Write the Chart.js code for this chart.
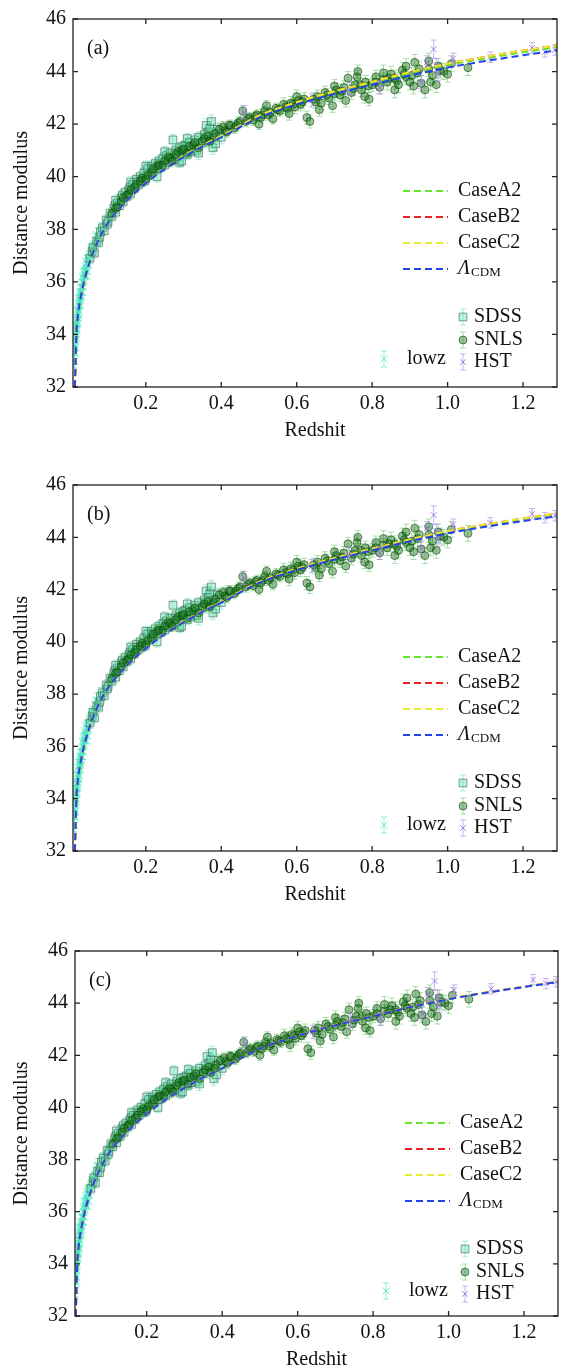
<!DOCTYPE html>
<html>
<head>
<meta charset="utf-8">
<script src="https://cdn.jsdelivr.net/npm/chart.js@4.4.0/dist/chart.umd.min.js"></script>
<style>
  body { margin: 0; background: #fff; }
  .panel { position: absolute; left: 0; }
</style>
</head>
<body>
<div class="panel" style="top:0"><canvas id="chartA" width="566" height="466"></canvas></div>
<div class="panel" style="top:466px"><canvas id="chartB" width="566" height="466"></canvas></div>
<div class="panel" style="top:932px"><canvas id="chartC" width="566" height="440"></canvas></div>
<script>
const curveZ = [0.012, 0.016, 0.02, 0.03, 0.05, 0.07, 0.1, 0.15, 0.2, 0.25, 0.3, 0.35, 0.4, 0.5, 0.6, 0.7, 0.8, 0.9, 1.0, 1.1, 1.2, 1.3];
const lcdm     = [32.0, 34.0, 34.7, 35.6, 36.7, 37.45, 38.25, 39.1, 39.75, 40.3, 40.75, 41.15, 41.5, 42.25, 42.75, 43.15, 43.5, 43.85, 44.15, 44.4, 44.62, 44.83];

// panel (a)
const caseA2_a = [32.0, 34.0, 34.7, 35.6, 36.7, 37.45, 38.25, 39.1, 39.75, 40.31, 40.77, 41.17, 41.53, 42.29, 42.8, 43.21, 43.57, 43.93, 44.24, 44.5, 44.73, 44.95];
const caseB2_a = [32.0, 34.0, 34.7, 35.6, 36.7, 37.45, 38.25, 39.1, 39.76, 40.32, 40.78, 41.19, 41.55, 42.32, 42.83, 43.25, 43.61, 43.98, 44.3, 44.56, 44.8, 45.02];
const caseC2_a = [32.0, 34.0, 34.7, 35.6, 36.7, 37.45, 38.25, 39.1, 39.76, 40.32, 40.78, 41.19, 41.55, 42.32, 42.83, 43.25, 43.61, 43.98, 44.3, 44.56, 44.8, 45.02];
// panel (b)
const caseA2_b = [32.0, 34.0, 34.7, 35.6, 36.7, 37.45, 38.25, 39.1, 39.75, 40.3, 40.76, 41.16, 41.52, 42.27, 42.78, 43.18, 43.54, 43.9, 44.21, 44.46, 44.69, 44.9];
const caseB2_b = [32.0, 34.0, 34.7, 35.6, 36.7, 37.45, 38.25, 39.1, 39.75, 40.31, 40.77, 41.17, 41.53, 42.29, 42.8, 43.2, 43.56, 43.92, 44.23, 44.49, 44.72, 44.93];
const caseC2_b = [32.0, 34.0, 34.7, 35.6, 36.7, 37.45, 38.25, 39.1, 39.75, 40.31, 40.77, 41.17, 41.53, 42.29, 42.8, 43.2, 43.56, 43.92, 44.23, 44.49, 44.72, 44.93];
// panel (c)
const caseA2_c = [32.0, 34.0, 34.7, 35.6, 36.7, 37.45, 38.25, 39.1, 39.75, 40.3, 40.75, 41.15, 41.5, 42.25, 42.76, 43.16, 43.51, 43.86, 44.16, 44.41, 44.63, 44.84];
const caseB2_c = [32.0, 34.0, 34.7, 35.6, 36.7, 37.45, 38.25, 39.1, 39.75, 40.3, 40.75, 41.15, 41.5, 42.25, 42.76, 43.16, 43.51, 43.86, 44.16, 44.41, 44.63, 44.84];
const caseC2_c = [32.0, 34.0, 34.7, 35.6, 36.7, 37.45, 38.25, 39.1, 39.75, 40.3, 40.75, 41.15, 41.5, 42.25, 42.76, 43.16, 43.51, 43.86, 44.16, 44.41, 44.63, 44.85];

// supernovae: [redshift, distance modulus, error]
const lowz = [
  [0.010,33.0,0.25],[0.011,33.3,0.25],[0.011,33.0,0.3],[0.012,33.5,0.25],[0.012,33.8,0.25],[0.013,33.6,0.25],
  [0.013,34.2,0.3],[0.014,34.0,0.25],[0.014,33.5,0.3],[0.015,34.2,0.25],[0.015,33.9,0.25],[0.016,34.4,0.25],
  [0.016,34.7,0.3],[0.017,34.3,0.25],[0.018,34.6,0.25],[0.018,34.2,0.3],[0.019,34.5,0.25],[0.020,34.8,0.25],
  [0.020,35.2,0.3],[0.021,34.9,0.25],[0.022,35.1,0.25],[0.022,34.6,0.3],[0.023,34.9,0.25],[0.024,35.3,0.25],
  [0.025,35.2,0.25],[0.025,35.6,0.3],[0.026,35.5,0.25],[0.027,35.4,0.25],[0.028,35.6,0.25],[0.028,35.3,0.3],
  [0.030,35.8,0.25],[0.031,35.6,0.25],[0.032,36.2,0.3],[0.033,36.0,0.25],[0.034,35.8,0.3],[0.035,36.1,0.25],
  [0.036,36.3,0.25],[0.038,36.2,0.25],[0.038,36.6,0.3],[0.040,36.5,0.25],[0.042,36.4,0.25],[0.043,36.7,0.3],
  [0.045,36.7,0.25],[0.046,36.4,0.3],[0.048,36.9,0.25],[0.050,36.8,0.25],[0.053,37.1,0.25],[0.056,37.2,0.25],
  [0.060,37.3,0.25],[0.065,37.6,0.25],[0.070,37.8,0.25],[0.080,38.0,0.25]
];
const sdss = [
  [0.052,36.9,0.2],[0.058,37.15,0.2],[0.060,37.3,0.2],[0.064,37.1,0.2],[0.070,37.55,0.2],[0.075,37.5,0.2],
  [0.078,37.7,0.2],[0.080,37.9,0.2],[0.085,38.05,0.2],[0.090,37.95,0.2],[0.095,38.35,0.2],[0.098,38.2,0.2],
  [0.100,38.3,0.2],[0.105,38.6,0.2],[0.110,38.5,0.2],[0.115,38.8,0.2],[0.118,38.9,0.2],[0.120,38.65,0.2],
  [0.120,39.1,0.2],[0.125,39.0,0.2],[0.130,38.9,0.2],[0.135,39.2,0.2],[0.138,39.3,0.2],[0.140,39.05,0.2],
  [0.145,39.4,0.2],[0.150,39.25,0.2],[0.155,39.5,0.2],[0.158,39.6,0.2],[0.160,39.35,0.2],[0.160,39.8,0.2],
  [0.165,39.7,0.2],[0.170,39.55,0.2],[0.175,39.9,0.2],[0.178,39.8,0.2],[0.180,39.7,0.2],[0.185,40.0,0.2],
  [0.190,39.8,0.2],[0.195,40.15,0.2],[0.198,39.85,0.2],[0.200,39.95,0.2],[0.200,40.4,0.2],[0.205,40.3,0.2],
  [0.210,40.1,0.2],[0.215,40.4,0.2],[0.218,40.3,0.2],[0.220,40.2,0.2],[0.225,40.5,0.2],[0.230,40.3,0.2],
  [0.230,40.0,0.2],[0.235,40.6,0.2],[0.238,40.5,0.2],[0.240,40.35,0.2],[0.245,40.7,0.2],[0.250,40.45,0.2],
  [0.250,40.95,0.2],[0.255,40.8,0.2],[0.258,40.65,0.2],[0.260,40.55,0.2],[0.265,40.9,0.2],[0.272,41.4,0.2],
  [0.275,40.65,0.2],[0.278,40.9,0.2],[0.280,41.0,0.2],[0.285,40.75,0.2],[0.290,41.1,0.2],[0.290,40.55,0.2],
  [0.295,40.6,0.2],[0.298,41.15,0.2],[0.300,41.0,0.2],[0.305,41.2,0.2],[0.310,40.85,0.2],[0.310,41.45,0.2],
  [0.315,41.3,0.2],[0.318,40.95,0.2],[0.320,41.05,0.2],[0.330,41.4,0.2],[0.335,41.0,0.2],[0.338,41.25,0.2],
  [0.340,41.5,0.2],[0.340,40.9,0.25],[0.350,41.3,0.2],[0.355,41.6,0.25],[0.358,41.5,0.25],[0.360,41.35,0.25],
  [0.360,41.95,0.25],[0.365,41.7,0.25],[0.370,41.85,0.25],[0.374,42.1,0.25],[0.378,41.1,0.25],[0.380,41.6,0.25],
  [0.385,41.25,0.25],[0.390,41.8,0.25],[0.400,41.5,0.25]
];
const snls = [
  [0.11,38.6,0.2],[0.12,38.8,0.2],[0.125,38.85,0.2],[0.135,39.05,0.2],[0.14,39.2,0.2],[0.15,39.3,0.2],
  [0.155,39.35,0.2],[0.16,39.5,0.2],[0.17,39.6,0.2],[0.175,39.7,0.2],[0.185,39.85,0.2],[0.19,39.95,0.2],
  [0.2,39.9,0.2],[0.205,40.05,0.2],[0.215,40.15,0.2],[0.22,40.3,0.2],[0.23,40.4,0.2],[0.235,40.45,0.2],
  [0.245,40.45,0.2],[0.25,40.6,0.2],[0.26,40.75,0.2],[0.265,40.7,0.2],[0.27,40.6,0.2],[0.28,40.85,0.2],
  [0.285,40.95,0.2],[0.295,41.0,0.2],[0.3,41.05,0.2],[0.31,40.9,0.2],[0.315,41.15,0.2],[0.325,41.2,0.2],
  [0.33,41.3,0.2],[0.34,41.1,0.2],[0.35,41.35,0.2],[0.355,41.45,0.2],[0.365,41.55,0.2],[0.37,41.35,0.2],
  [0.38,41.5,0.2],[0.385,41.65,0.2],[0.395,41.8,0.2],[0.405,41.9,0.2],[0.41,41.75,0.2],[0.415,41.7,0.2],
  [0.42,41.95,0.2],[0.425,41.95,0.2],[0.435,41.85,0.2],[0.44,41.95,0.2],[0.445,42.05,0.2],[0.45,42.1,0.2],
  [0.457,42.5,0.2],[0.465,42.1,0.2],[0.47,42.2,0.2],[0.475,42.25,0.2],[0.485,42.15,0.2],[0.49,42.3,0.2],
  [0.495,42.35,0.2],[0.5,42.0,0.2],[0.505,42.25,0.2],[0.51,42.35,0.2],[0.515,42.5,0.2],[0.52,42.7,0.2],
  [0.525,42.35,0.2],[0.53,42.45,0.2],[0.537,42.2,0.2],[0.545,42.6,0.2],[0.55,42.55,0.2],[0.555,42.5,0.2],
  [0.565,42.75,0.25],[0.57,42.65,0.25],[0.575,42.6,0.25],[0.58,42.4,0.25],[0.585,42.8,0.25],[0.59,42.75,0.25],
  [0.595,42.65,0.25],[0.6,43.05,0.25],[0.605,42.9,0.25],[0.61,42.75,0.25],[0.615,42.85,0.25],[0.62,42.95,0.25],
  [0.627,42.25,0.25],[0.635,42.1,0.25],[0.645,42.95,0.25],[0.65,42.85,0.25],[0.655,43.05,0.25],[0.66,42.55,0.25],
  [0.665,42.8,0.25],[0.675,43.2,0.25],[0.68,43.1,0.25],[0.685,43.0,0.25],[0.695,42.7,0.25],[0.7,43.15,0.25],
  [0.7,43.45,0.25],[0.705,43.3,0.25],[0.715,43.1,0.25],[0.72,43.25,0.25],[0.725,43.4,0.25],[0.73,42.9,0.25],
  [0.736,43.75,0.25],[0.745,43.2,0.25],[0.75,43.35,0.25],[0.755,43.5,0.25],[0.76,43.8,0.25],[0.762,44.0,0.25],
  [0.77,43.5,0.25],[0.772,43.3,0.25],[0.78,43.05,0.25],[0.782,43.6,0.25],[0.79,43.45,0.25],[0.792,42.95,0.25],
  [0.8,43.5,0.25],[0.81,43.8,0.25],[0.81,43.6,0.25],[0.82,43.4,0.25],[0.83,43.7,0.25],[0.83,43.95,0.3],
  [0.84,43.6,0.3],[0.845,43.75,0.3],[0.85,43.9,0.3],[0.86,43.75,0.3],[0.86,43.3,0.3],[0.865,43.65,0.3],
  [0.87,43.5,0.3],[0.88,44.05,0.3],[0.885,43.9,0.3],[0.89,43.8,0.3],[0.89,44.2,0.3],[0.9,43.6,0.3],
  [0.905,43.85,0.3],[0.91,43.45,0.3],[0.913,44.35,0.3],[0.92,43.95,0.3],[0.925,44.1,0.3],[0.93,43.55,0.3],
  [0.94,43.3,0.3],[0.95,44.1,0.3],[0.95,44.4,0.3],[0.955,43.6,0.3],[0.96,43.85,0.3],[0.97,43.5,0.3],
  [0.975,44.2,0.3],[0.98,44.05,0.3],[0.99,44.0,0.3],[1.0,43.9,0.3],[1.01,44.3,0.3],[1.054,44.15,0.3]
];
const hst = [
  [0.46,42.45,0.25],[0.64,42.9,0.25],[0.74,43.35,0.25],[0.82,43.4,0.25],[0.93,43.6,0.25],[0.945,44.35,0.25],
  [0.963,44.85,0.35],[0.97,44.25,0.25],[0.975,43.9,0.25],[1.015,44.5,0.2],[1.113,44.55,0.2],[1.224,44.9,0.2],
  [1.258,44.75,0.2],[1.285,44.82,0.2]
];

const xTicks = [0.2, 0.4, 0.6, 0.8, 1.0, 1.2];
const yTicks = [32, 34, 36, 38, 40, 42, 44, 46];

const FONT = 'Liberation Serif';

function curve(label, values, color) {
  return {
    label: label,
    data: curveZ.map((z, i) => ({ x: z, y: values[i] })),
    showLine: true,
    borderColor: color,
    borderWidth: 2,
    borderDash: [7, 4],
    pointRadius: 0,
    cubicInterpolationMode: 'monotone'
  };
}

function sample(label, rows, style, fill, edge, errColor, radius) {
  return {
    label: label,
    data: rows.map(r => ({ x: r[0], y: r[1] })),
    errors: rows.map(r => r[2]),
    errorColor: errColor,
    pointStyle: style,
    pointRadius: radius,
    backgroundColor: fill,
    borderColor: edge,
    borderWidth: 1
  };
}

// vertical error bars with caps, drawn under each dataset's markers
const errorBars = {
  id: 'errorBars',
  beforeDatasetDraw(chart, args) {
    const ds = chart.data.datasets[args.index];
    if (!ds.errors) return;
    const ctx = chart.ctx, ys = chart.scales.y, a = chart.chartArea;
    ctx.save();
    ctx.beginPath();
    ctx.rect(a.left, a.top, a.right - a.left, a.bottom - a.top);
    ctx.clip();
    ctx.strokeStyle = ds.errorColor;
    ctx.lineWidth = 1;
    ctx.beginPath();
    args.meta.data.forEach((pt, i) => {
      const v = ds.data[i].y, e = ds.errors[i];
      const y0 = ys.getPixelForValue(v - e), y1 = ys.getPixelForValue(v + e);
      ctx.moveTo(pt.x, y0); ctx.lineTo(pt.x, y1);
      ctx.moveTo(pt.x - 3, y0); ctx.lineTo(pt.x + 3, y0);
      ctx.moveTo(pt.x - 3, y1); ctx.lineTo(pt.x + 3, y1);
    });
    ctx.stroke();
    ctx.restore();
  }
};

// box round the plot with inward ticks on all four sides
const frame = {
  id: 'frame',
  afterDatasetsDraw(chart) {
    const { ctx, chartArea: a, scales: { x, y } } = chart;
    ctx.save();
    ctx.strokeStyle = '#222';
    ctx.lineWidth = 1.3;
    ctx.strokeRect(a.left, a.top, a.right - a.left, a.bottom - a.top);
    ctx.beginPath();
    x.ticks.forEach(t => {
      const px = x.getPixelForValue(t.value);
      ctx.moveTo(px, a.bottom); ctx.lineTo(px, a.bottom - 5);
      ctx.moveTo(px, a.top); ctx.lineTo(px, a.top + 5);
    });
    y.ticks.forEach(t => {
      const py = y.getPixelForValue(t.value);
      ctx.moveTo(a.left, py); ctx.lineTo(a.left + 5, py);
      ctx.moveTo(a.right, py); ctx.lineTo(a.right - 5, py);
    });
    ctx.stroke();
    ctx.restore();
  }
};

function drawMarker(ctx, ds, x, y) {
  const r = ds.pointRadius;
  ctx.fillStyle = ds.backgroundColor;
  ctx.strokeStyle = ds.borderColor;
  ctx.lineWidth = 1;
  ctx.beginPath();
  if (ds.pointStyle === 'rect') {
    const s = r * Math.SQRT1_2;
    ctx.rect(x - s, y - s, 2 * s, 2 * s);
    ctx.fill(); ctx.stroke();
  } else if (ds.pointStyle === 'circle') {
    ctx.arc(x, y, r, 0, Math.PI * 2);
    ctx.fill(); ctx.stroke();
  } else {
    const s = r * Math.SQRT1_2;
    ctx.moveTo(x - s, y - s); ctx.lineTo(x + s, y + s);
    ctx.moveTo(x - s, y + s); ctx.lineTo(x + s, y - s);
    ctx.stroke();
  }
}

// legend laid out inside the plot, like the original figure
const insideLegend = {
  id: 'insideLegend',
  afterDraw(chart, args, opts) {
    const { ctx, chartArea: a } = chart;
    const byLabel = l => chart.data.datasets.find(d => d.label === l);
    ctx.save();
    ctx.fillStyle = '#111';
    ctx.textBaseline = 'middle';
    ctx.font = '20px ' + FONT;
    ctx.fillText(opts.tag, a.left + 14, a.top + 30);

    ['CaseA2', 'CaseB2', 'CaseC2', 'LCDM'].forEach((l, i) => {
      const ds = byLabel(l);
      const y = a.top + 172 + i * 26;
      ctx.strokeStyle = ds.borderColor;
      ctx.lineWidth = 2;
      ctx.setLineDash([7, 4]);
      ctx.beginPath();
      ctx.moveTo(a.left + 330, y); ctx.lineTo(a.left + 375, y);
      ctx.stroke();
      ctx.setLineDash([]);
      ctx.fillStyle = '#111';
      if (l === 'LCDM') {
        ctx.font = 'italic 20px ' + FONT;
        ctx.fillText('Λ', a.left + 385, y);
        const w = ctx.measureText('Λ').width;
        ctx.font = '13px ' + FONT;
        ctx.fillText('CDM', a.left + 386 + w, y + 4);
      } else {
        ctx.font = '20px ' + FONT;
        ctx.fillText(l, a.left + 385, y);
      }
    });

    const points = [['SDSS', 390, 298], ['SNLS', 390, 321], ['HST', 390, 343], ['lowz', 311, 340]];
    points.forEach(([l, dx, dy]) => {
      const ds = byLabel(l);
      const x = a.left + dx, y = a.top + dy;
      ctx.strokeStyle = ds.errorColor;
      ctx.lineWidth = 1;
      ctx.beginPath();
      ctx.moveTo(x, y - 8); ctx.lineTo(x, y + 8);
      ctx.moveTo(x - 3, y - 8); ctx.lineTo(x + 3, y - 8);
      ctx.moveTo(x - 3, y + 8); ctx.lineTo(x + 3, y + 8);
      ctx.stroke();
      drawMarker(ctx, ds, x, y);
      ctx.fillStyle = '#111';
      ctx.font = '20px ' + FONT;
      ctx.fillText(l, x + (l === 'lowz' ? 23 : 11), y);
    });
    ctx.restore();
  }
};

const panels = [
  { id: 'chartA', tag: '(a)', A2: caseA2_a, B2: caseB2_a, C2: caseC2_a, xMin: 0.007, h: 466, left: 73, right: 557, top: 13, bottom: 387 },
  { id: 'chartB', tag: '(b)', A2: caseA2_b, B2: caseB2_b, C2: caseC2_b, xMin: 0.007, h: 466, left: 73, right: 557, top: 13, bottom: 385 },
  { id: 'chartC', tag: '(c)', A2: caseA2_c, B2: caseB2_c, C2: caseC2_c, xMin: 0.01, h: 440, left: 75, right: 558, top: 11, bottom: 384 }
];

panels.forEach(p => {
  const xAxisH = 44 + 12;
  new Chart(document.getElementById(p.id), {
    type: 'scatter',
    data: {
      datasets: [
        curve('LCDM', lcdm, '#2244ee'),
        curve('CaseC2', p.C2, '#e6ee30'),
        curve('CaseB2', p.B2, '#ee2222'),
        curve('CaseA2', p.A2, '#66e82a'),
        sample('HST', hst, 'crossRot', 'rgba(150,100,230,0.8)', 'rgba(150,100,230,0.8)', 'rgba(170,140,240,0.65)', 4),
        sample('SNLS', snls, 'circle', 'rgba(20,110,20,0.42)', 'rgba(10,70,10,0.6)', 'rgba(100,200,100,0.55)', 4),
        sample('SDSS', sdss, 'rect', 'rgba(80,225,170,0.4)', 'rgba(60,95,80,0.6)', 'rgba(110,230,185,0.6)', 5.5),
        sample('lowz', lowz, 'crossRot', 'rgba(60,228,190,0.75)', 'rgba(60,228,190,0.75)', 'rgba(60,228,190,0.55)', 5)
      ]
    },
    options: {
      responsive: false,
      animation: false,
      layout: { padding: { left: 0, top: p.top, right: 566 - p.right, bottom: p.h - p.bottom - xAxisH } },
      plugins: {
        legend: { display: false },
        tooltip: { enabled: false },
        insideLegend: { tag: p.tag }
      },
      scales: {
        x: {
          type: 'linear',
          min: p.xMin,
          max: 1.29,
          grid: { display: false, drawTicks: false },
          border: { display: false },
          afterBuildTicks: s => { s.ticks = xTicks.map(v => ({ value: v })); },
          afterFit: s => { s.height = xAxisH; },
          ticks: { padding: 5, color: '#111', font: { family: FONT, size: 20 }, callback: v => v.toFixed(1) },
          title: { display: true, text: 'Redshit', color: '#111', padding: 0, font: { family: FONT, size: 20 } }
        },
        y: {
          min: 32,
          max: 46,
          grid: { display: false, drawTicks: false },
          border: { display: false },
          afterBuildTicks: s => { s.ticks = yTicks.map(v => ({ value: v })); },
          afterFit: s => { s.width = p.left; },
          ticks: { padding: 7, color: '#111', font: { family: FONT, size: 20 }, callback: v => String(v) },
          title: { display: true, text: 'Distance modulus', color: '#111', padding: { top: 10, bottom: 0 }, font: { family: FONT, size: 20 } }
        }
      }
    },
    plugins: [errorBars, frame, insideLegend]
  });
});
</script>
</body>
</html>
